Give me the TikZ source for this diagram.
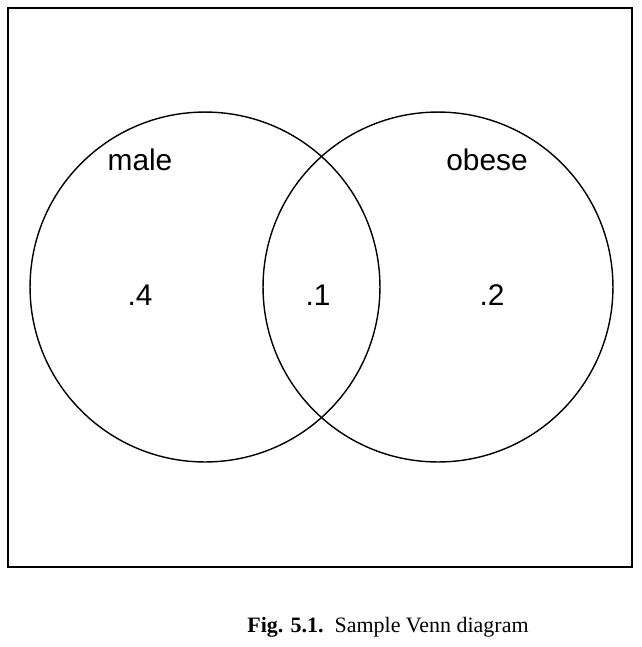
\documentclass[tikz,border=0pt]{standalone}
\usepackage{fontspec}
\setmainfont{Liberation Serif}
\setsansfont{Liberation Sans}

\begin{document}
\begin{tikzpicture}[x=0.02cm,y=-0.02cm]
            \useasboundingbox (0,0) rectangle (642,647);
            \begin{scope}[every node/.style={circle,draw,line width=0.8pt,minimum size=7cm,inner sep=0pt}]
                \node (M) at (205,287) {};
                \node (O) at (438,287) {};
            \end{scope}
            \node (U) [draw,line width=0.8pt,minimum width=12.48cm,minimum height=11.18cm,inner sep=0pt] at (320,287.5) {};

            \begin{scope}[every node/.style={font=\sffamily\fontsize{17}{20}\selectfont}]
                \node (Ml) at (140,160) {male};
                \node (Ol) at (487,160) {obese};
                \node (Mv) at (140,295) {.4};
                \node (Bv) at (318,295) {.1};
                \node (Ov) at (492,295) {.2};
            \end{scope}

            \node (cap) [font=\fontsize{12.5}{15}\selectfont] at (388,627) {\textbf{Fig. 5.1.}\ \ Sample Venn diagram};
        \end{tikzpicture}
\end{document}
